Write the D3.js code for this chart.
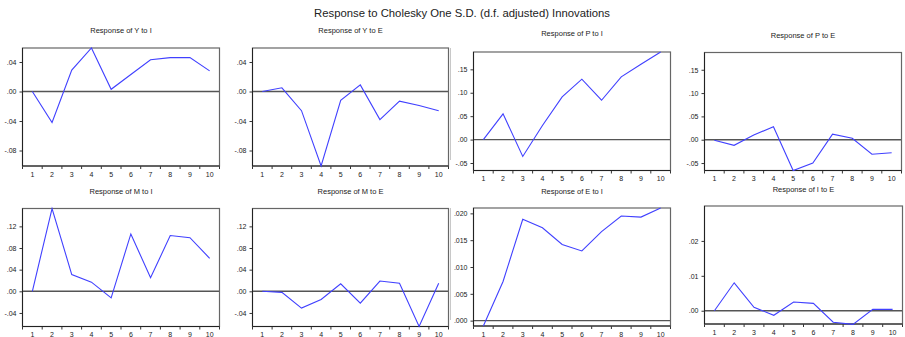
<!DOCTYPE html>
<html>
<head>
<meta charset="utf-8">
<script src="https://cdn.jsdelivr.net/npm/d3@7"></script>
<style>
  html, body { margin: 0; padding: 0; background: #fff; }
  svg { display: block; font-family: Arial, "Liberation Sans", sans-serif; }
</style>
</head>
<body>
<svg id="chart" width="905" height="337"></svg>
<script>
// Impulse responses over 10 periods
const periods = [1, 2, 3, 4, 5, 6, 7, 8, 9, 10];

const respYtoI = [0.000, -0.042, 0.029, 0.059, 0.003, 0.023, 0.043, 0.046, 0.046, 0.028];
const respYtoE = [0.000, 0.005, -0.026, -0.101, -0.012, 0.009, -0.038, -0.013, -0.019, -0.026];
const respPtoI = [0.000, 0.055, -0.036, 0.030, 0.091, 0.129, 0.084, 0.134, 0.161, 0.187];
const respPtoE = [-0.001, -0.012, 0.010, 0.028, -0.066, -0.050, 0.012, 0.003, -0.031, -0.028];
const respMtoI = [0.000, 0.153, 0.031, 0.017, -0.012, 0.106, 0.025, 0.103, 0.099, 0.061];
const respMtoE = [0.000, -0.002, -0.031, -0.015, 0.014, -0.022, 0.019, 0.015, -0.065, 0.015];
const respEtoI = [-0.0010, 0.0073, 0.0189, 0.0173, 0.0142, 0.0130, 0.0166, 0.0195, 0.0193, 0.0210];
const respItoE = [0.0000, 0.0080, 0.0010, -0.0013, 0.0025, 0.0021, -0.0033, -0.0039, 0.0004, 0.0004];

// Shared vertical ranges per responding variable
const domainY = [-0.101, 0.059];
const domainP = [-0.066, 0.187];
const domainM = [-0.065, 0.153];
const domainE = [-0.001, 0.021];
const domainI = [-0.0038, 0.030];

// Y-axis ticks and their labels
const ticksY = [0.04, 0.00, -0.04, -0.08];
const labelsY = [".04", ".00", "-.04", "-.08"];
const ticksP = [0.15, 0.10, 0.05, 0.00, -0.05];
const labelsP = [".15", ".10", ".05", ".00", "-.05"];
const ticksM = [0.12, 0.08, 0.04, 0.00, -0.04];
const labelsM = [".12", ".08", ".04", ".00", "-.04"];
const ticksE = [0.020, 0.015, 0.010, 0.005, 0.000];
const labelsE = [".020", ".015", ".010", ".005", ".000"];
const ticksI = [0.02, 0.01, 0.00];
const labelsI = [".02", ".01", ".00"];

const mainTitle = "Response to Cholesky One S.D. (d.f. adjusted) Innovations";

// Panel frames (pixel layout of each small plot)
const panels = [
  { title: "Response of Y to I", values: respYtoI, domain: domainY, ticks: ticksY, labels: labelsY, x0: 22.5, x1: 219.5, y0: 48, y1: 166, ty: 32.5 },
  { title: "Response of Y to E", values: respYtoE, domain: domainY, ticks: ticksY, labels: labelsY, x0: 252.5, x1: 448.5, y0: 48, y1: 166, ty: 32.5 },
  { title: "Response of P to I", values: respPtoI, domain: domainP, ticks: ticksP, labels: labelsP, x0: 473.5, x1: 670.5, y0: 52, y1: 170.5, ty: 36 },
  { title: "Response of P to E", values: respPtoE, domain: domainP, ticks: ticksP, labels: labelsP, x0: 704.5, x1: 901.5, y0: 52.5, y1: 170.5, ty: 37.5 },
  { title: "Response of M to I", values: respMtoI, domain: domainM, ticks: ticksM, labels: labelsM, x0: 22.5, x1: 219.5, y0: 208.5, y1: 326.5, ty: 193.5 },
  { title: "Response of M to E", values: respMtoE, domain: domainM, ticks: ticksM, labels: labelsM, x0: 252.5, x1: 448.5, y0: 208.5, y1: 326.5, ty: 193.5 },
  { title: "Response of E to I", values: respEtoI, domain: domainE, ticks: ticksE, labels: labelsE, x0: 473.5, x1: 670.5, y0: 208, y1: 326, ty: 193.5 },
  { title: "Response of I to E", values: respItoE, domain: domainI, ticks: ticksI, labels: labelsI, x0: 704.5, x1: 902.5, y0: 206, y1: 324, ty: 191.5 }
];

const svg = d3.select("#chart");

svg.append("text")
  .attr("x", 462).attr("y", 17)
  .attr("text-anchor", "middle")
  .attr("font-size", "11.3px")
  .attr("fill", "#222")
  .text(mainTitle);

// faint separators left of the third column
[[48, 160], [208, 320]].forEach(([a, b]) => {
  svg.append("line")
    .attr("x1", 450.5).attr("x2", 450.5).attr("y1", a).attr("y2", b)
    .attr("stroke", "#c8c8c8").attr("stroke-width", 1);
});

panels.forEach(p => {
  const g = svg.append("g");
  const x = d3.scaleBand().domain(periods).range([p.x0, p.x1]).padding(0);
  const y = d3.scaleLinear().domain(p.domain).range([p.y1, p.y0]);
  const bw = x.bandwidth();

  // title
  g.append("text")
    .attr("x", (p.x0 + p.x1) / 2).attr("y", p.ty)
    .attr("text-anchor", "middle")
    .attr("font-size", "7.5px")
    .attr("fill", "#222")
    .text(p.title);

  // y axis
  const yAxis = d3.axisLeft(y)
    .tickValues(p.ticks)
    .tickFormat((d, i) => p.labels[i])
    .tickSize(3)
    .tickPadding(3);
  const ya = g.append("g").attr("transform", `translate(${p.x0},0)`).call(yAxis);
  ya.select(".domain").remove();
  ya.selectAll("text").attr("font-size", "7px").attr("fill", "#222").attr("font-family", "Arial, 'Liberation Sans', sans-serif");
  ya.selectAll("line").attr("stroke", "#333");

  // x ticks at period boundaries, labels at period centres
  const bounds = periods.map(d => x(d)).concat([p.x1]);
  g.selectAll("line.xt").data(bounds).enter().append("line")
    .attr("x1", d => d).attr("x2", d => d)
    .attr("y1", p.y1).attr("y2", p.y1 + 3)
    .attr("stroke", "#333");
  g.selectAll("text.xl").data(periods).enter().append("text")
    .attr("x", d => x(d) + bw / 2)
    .attr("y", p.y1 + 10.5)
    .attr("text-anchor", "middle")
    .attr("font-size", "7px")
    .attr("fill", "#222")
    .text(d => d);

  // zero line
  g.append("line")
    .attr("x1", p.x0).attr("x2", p.x1)
    .attr("y1", y(0)).attr("y2", y(0))
    .attr("stroke", "#555").attr("stroke-width", 1.4);

  // frame
  g.append("rect")
    .attr("x", p.x0).attr("y", p.y0)
    .attr("width", p.x1 - p.x0).attr("height", p.y1 - p.y0)
    .attr("fill", "none").attr("stroke", "#666").attr("stroke-width", 1.2);
  g.append("line")
    .attr("x1", p.x0).attr("x2", p.x0).attr("y1", p.y0).attr("y2", p.y1)
    .attr("stroke", "#222");
  g.append("line")
    .attr("x1", p.x0).attr("x2", p.x1).attr("y1", p.y1).attr("y2", p.y1)
    .attr("stroke", "#222");

  // response line
  const line = d3.line()
    .x((d, i) => x(periods[i]) + bw / 2)
    .y(d => y(d));
  g.append("path")
    .datum(p.values)
    .attr("d", line)
    .attr("fill", "none")
    .attr("stroke", "#4040ff")
    .attr("stroke-width", 1.1);
});
</script>
</body>
</html>
